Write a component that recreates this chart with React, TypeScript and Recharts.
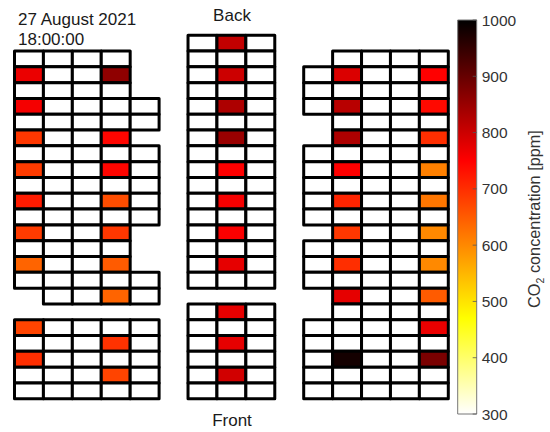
import React from 'react';
import { Bar, BarChart, Scatter, ScatterChart, XAxis, YAxis } from 'recharts';

// seat plan of the hall, back to front: x = seat, . = aisle or no seat
const hallPlan = [
  '......xxx......',
  'xxxx..xxx..xxxx',
  'xxxx..xxx.xxxxx',
  'xxxx..xxx.xxxxx',
  'xxxxx.xxx.xxxxx',
  'xxxxx.xxx..xxxx',
  'xxxx..xxx..xxxx',
  'xxxxx.xxx.xxxxx',
  'xxxxx.xxx.xxxxx',
  'xxxxx.xxx.xxxxx',
  'xxxxx.xxx.xxxxx',
  'xxxxx.xxx.xxxxx',
  'xxxx..xxx..xxxx',
  'xxxx..xxx.xxxxx',
  'xxxx..xxx.xxxxx',
  'xxxxx.xxx.xxxxx',
  '.xxxx......xxxx',
  '......xxx..xxxx',
  'xxxxx.xxx.xxxxx',
  'xxxxx.xxx.xxxxx',
  'xxxxx.xxx.xxxxx',
  'xxxxx.xxx.xxxxx',
  'xxxxx.xxx.xxxxx',
];

// [plan row, plan column, ppm]
const leftReadings = [
  [2, 0, 770], [2, 3, 860], [4, 0, 760], [6, 0, 690], [6, 3, 745],
  [8, 0, 685], [8, 3, 745], [10, 0, 720], [10, 3, 665], [12, 0, 685],
  [12, 3, 690], [14, 0, 640], [14, 3, 650], [16, 3, 640], [18, 0, 675],
  [19, 3, 695], [20, 0, 700], [21, 3, 675],
];
const centerReadings = [
  [0, 7, 810], [2, 7, 800], [4, 7, 830], [6, 7, 850], [8, 7, 750], [10, 7, 760],
  [12, 7, 755], [14, 7, 775], [17, 7, 775], [19, 7, 775], [21, 7, 795],
];
const rightReadings = [
  [2, 11, 785], [2, 14, 750], [4, 11, 820], [4, 14, 740], [6, 11, 830],
  [6, 14, 700], [8, 11, 750], [8, 14, 610], [10, 11, 710], [10, 14, 620],
  [12, 11, 690], [12, 14, 600], [14, 11, 700], [14, 14, 600], [16, 11, 775],
  [16, 14, 650], [18, 14, 770], [20, 11, 980], [20, 14, 880],
];

const colorStops: [number, string][] = [
  [300, '#ffffff'],
  [470, '#ffff00'],
  [750, '#ff0000'],
  [1000, '#000000'],
];
const colorbarTicks = [300, 400, 500, 600, 700, 800, 900, 1000];
const colorbarData = [{ name: 'co2', range: [300, 1000] }];

const hexChannels = (hex: string) => [1, 3, 5].map((i) => parseInt(hex.slice(i, i + 2), 16));

const ppmToColor = (ppm: number) => {
  for (let i = 1; i < colorStops.length; i++) {
    const [v0, c0] = colorStops[i - 1];
    const [v1, c1] = colorStops[i];
    if (ppm <= v1) {
      const t = (ppm - v0) / (v1 - v0);
      const a = hexChannels(c0);
      const b = hexChannels(c1);
      return `rgb(${a.map((ch, k) => Math.round(ch + (b[k] - ch) * t)).join(',')})`;
    }
  }
  return colorStops[colorStops.length - 1][1];
};

const readings = [...leftReadings, ...centerReadings, ...rightReadings];
const seats = hallPlan.flatMap((line, row) =>
  line.split('').flatMap((mark, col) => {
    if (mark !== 'x') return [];
    const hit = readings.find((r) => r[0] === row && r[1] === col);
    return [{ col: col + 0.5, row: row + 0.5, ppm: hit ? hit[2] : null }];
  }),
);

const PLOT = { left: 14.5, right: 448.3, top: 35.2, bottom: 398.8 };
const CELL_W = (PLOT.right - PLOT.left) / hallPlan[0].length;
const CELL_H = (PLOT.bottom - PLOT.top) / hallPlan.length;

const SeatCell = (props: any) => {
  const { cx, cy, payload } = props;
  return (
    <rect
      x={cx - CELL_W / 2}
      y={cy - CELL_H / 2}
      width={CELL_W}
      height={CELL_H}
      fill={payload.ppm === null ? '#ffffff' : ppmToColor(payload.ppm)}
      stroke="#000000"
      strokeWidth={3}
      strokeLinejoin="round"
    />
  );
};

const ColorbarTick = (props: any) => {
  const { x, y, payload } = props;
  return (
    <g>
      <line x1={x - 9} x2={x - 5} y1={y} y2={y} stroke="#555555" strokeWidth={0.8} />
      <text x={x} y={y} dy="0.36em" fontSize={15.5} fill="#333333" fontFamily="Liberation Sans">
        {payload.value}
      </text>
    </g>
  );
};

const textStyle: React.CSSProperties = {
  position: 'absolute',
  fontFamily: '"Liberation Sans", sans-serif',
  fontSize: 17,
  lineHeight: '20px',
  color: '#1a1a1a',
  whiteSpace: 'nowrap',
};

export default function App() {
  return (
    <div style={{ position: 'absolute', left: 0, top: 0, width: 550, height: 432, background: '#fff', overflow: 'hidden' }}>
      <div style={{ position: 'absolute', left: 0, top: 0 }}>
        <ScatterChart
          width={470}
          height={432}
          margin={{ left: PLOT.left, right: 470 - PLOT.right, top: PLOT.top, bottom: 432 - PLOT.bottom }}
        >
          <XAxis type="number" dataKey="col" domain={[0, hallPlan[0].length]} hide />
          <YAxis type="number" dataKey="row" domain={[0, hallPlan.length]} reversed hide />
          <Scatter data={seats} shape={SeatCell} isAnimationActive={false} />
        </ScatterChart>
      </div>
      <div style={{ position: 'absolute', left: 0, top: 0 }}>
        <BarChart
          width={530}
          height={432}
          data={colorbarData}
          barCategoryGap={0}
          margin={{ left: 457.7, right: 13.3, top: 20, bottom: 18 }}
        >
          <defs>
            <linearGradient id="hotScale" x1="0" y1="1" x2="0" y2="0">
              {colorStops.map(([v, c]) => (
                <stop key={v} offset={`${((v - 300) / 700) * 100}%`} stopColor={c} />
              ))}
            </linearGradient>
          </defs>
          <XAxis dataKey="name" hide />
          <YAxis
            orientation="right"
            type="number"
            domain={[300, 1000]}
            ticks={colorbarTicks}
            interval={0}
            width={40}
            axisLine={false}
            tickLine={false}
            tickSize={0}
            tickMargin={5}
            tick={ColorbarTick}
          />
          <Bar dataKey="range" fill="url(#hotScale)" stroke="#777777" strokeWidth={1} isAnimationActive={false} />
        </BarChart>
      </div>
      <div style={{ ...textStyle, left: 18, top: 10 }}>27 August 2021</div>
      <div style={{ ...textStyle, left: 18, top: 30 }}>18:00:00</div>
      <div style={{ ...textStyle, left: 192, width: 80, top: 6, textAlign: 'center' }}>Back</div>
      <div style={{ ...textStyle, left: 192, width: 80, top: 411, textAlign: 'center' }}>Front</div>
      <div
        style={{
          ...textStyle,
          left: 534,
          top: 219,
          fontSize: 16.3,
          color: '#333333',
          transform: 'translate(-50%, -50%) rotate(-90deg)',
        }}
      >
        CO<sub style={{ fontSize: 10.5, lineHeight: 0 }}>2</sub> concentration [ppm]
      </div>
    </div>
  );
}
